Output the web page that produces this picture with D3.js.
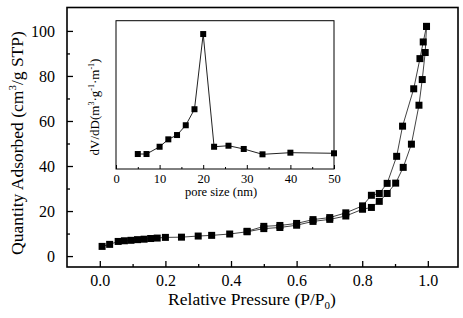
<!DOCTYPE html>
<html>
<head>
<meta charset="utf-8">
<script src="https://cdn.jsdelivr.net/npm/d3@7"></script>
<style>
  body { margin: 0; background: #fff; }
  text { font-family: "Liberation Serif", "Times New Roman", serif; fill: #000; }
</style>
</head>
<body>
<div class="chart"></div>
<script>
// isotherm, adsorption branch
const adsP = [0.007, 0.030, 0.056, 0.075, 0.095, 0.115, 0.135, 0.155, 0.175, 0.200, 0.249, 0.300, 0.341, 0.396, 0.449,
  0.500, 0.549, 0.600, 0.650, 0.701, 0.750, 0.801, 0.828, 0.852, 0.876, 0.902, 0.925, 0.950, 0.973, 0.983, 0.992, 0.996]
const adsQ = [4.3, 5.2, 6.5, 6.8, 7.0, 7.3, 7.5, 7.8, 8.0, 8.3, 8.4, 8.9, 9.2, 9.8, 10.8,
  12.2, 12.7, 13.7, 15.4, 16.3, 17.8, 20.8, 21.6, 24.3, 27.8, 32.4, 39.4, 49.7, 67.0, 78.4, 90.4, 102.0]

// desorption branch
const desP = [0.996, 0.986, 0.976, 0.957, 0.923, 0.905, 0.876, 0.852, 0.828, 0.801, 0.750, 0.701, 0.650, 0.600, 0.549, 0.500, 0.449]
const desQ = [102.0, 95.1, 87.7, 74.3, 57.7, 44.3, 32.3, 27.8, 27.0, 22.3, 19.2, 17.1, 16.2, 14.5, 13.6, 13.2, 11.0]

// inset: pore size distribution
const poreSize = [5, 7, 10, 12, 14, 16, 18, 20, 22.5, 25.8, 29.3, 33.6, 40, 50]
const poreDV = [10.1, 10.1, 15.0, 20.0, 22.9, 29.5, 40.3, 91.0, 15.0, 15.7, 13.5, 9.9, 11.0, 10.6]

const xTicks = [0, 0.2, 0.4, 0.6, 0.8, 1.0]
const yTicks = [0, 20, 40, 60, 80, 100]
const insetTicks = [0, 10, 20, 30, 40, 50]

const width = 463, height = 318
const svg = d3.select('.chart').append('svg')
  .attr('width', width)
  .attr('height', height)

const frame = {left: 67, right: 458, top: 7.5, bottom: 267}

const x = d3.scaleLinear().domain([-0.1, 1.092]).range([frame.left, frame.right])
const y = d3.scaleLinear().domain([-4.85, 110.4]).range([frame.bottom, frame.top])

// main axes, ticks pointing inward
const xAxis = svg.append('g').attr('transform', `translate(0, ${frame.bottom})`)
  .call(d3.axisBottom(x).tickValues(xTicks).tickFormat(d3.format('.1f')).tickSizeInner(-6).tickSizeOuter(0).tickPadding(8))
const yAxis = svg.append('g').attr('transform', `translate(${frame.left}, 0)`)
  .call(d3.axisLeft(y).tickValues(yTicks).tickSizeInner(-6).tickSizeOuter(0).tickPadding(12))

// minor ticks
svg.append('g').attr('transform', `translate(0, ${frame.bottom})`)
  .call(d3.axisBottom(x).tickValues([0.1, 0.3, 0.5, 0.7, 0.9]).tickFormat('').tickSizeInner(-3).tickSizeOuter(0))
svg.append('g').attr('transform', `translate(${frame.left}, 0)`)
  .call(d3.axisLeft(y).tickValues([10, 30, 50, 70, 90]).tickFormat('').tickSizeInner(-3).tickSizeOuter(0))

svg.selectAll('.domain').remove()
svg.selectAll('.tick line').attr('stroke', '#000').attr('stroke-width', 1.3)
xAxis.selectAll('text').style('font-size', '16px')
yAxis.selectAll('text').style('font-size', '16px')

svg.append('rect')
  .attr('x', frame.left).attr('y', frame.top)
  .attr('width', frame.right - frame.left).attr('height', frame.bottom - frame.top)
  .attr('fill', 'none').attr('stroke', '#000').attr('stroke-width', 1.6)

// axis titles
svg.append('text')
  .attr('x', 252).attr('y', 305)
  .attr('text-anchor', 'middle')
  .style('font-size', '17.5px')
  .html('Relative Pressure (P/P<tspan dy="4" font-size="11px">0</tspan><tspan dy="-4">)</tspan>')

svg.append('text')
  .attr('transform', 'translate(23, 143) rotate(-90)')
  .attr('text-anchor', 'middle')
  .style('font-size', '17.5px')
  .html('Quantity Adsorbed (cm<tspan dy="-7" font-size="11px">3</tspan><tspan dy="7">/g STP)</tspan>')

// isotherm
const line = d3.line().x(d => x(d[0])).y(d => y(d[1]))
const ads = adsP.map((p, i) => [p, adsQ[i]])
const des = desP.map((p, i) => [p, desQ[i]])

const iso = svg.append('g')
;[ads, des].forEach(series => {
  iso.append('path')
    .attr('d', line(series))
    .attr('fill', 'none')
    .attr('stroke', '#444')
    .attr('stroke-width', 1)
})
const sq = 7
iso.selectAll('rect.pt')
  .data(ads.concat(des))
  .enter()
  .append('rect')
  .attr('class', 'pt')
  .attr('x', d => x(d[0]) - sq / 2)
  .attr('y', d => y(d[1]) - sq / 2)
  .attr('width', sq).attr('height', sq)
  .attr('fill', '#000')

// inset
const inset = {left: 116, right: 334, top: 20.7, bottom: 169}
const ix = d3.scaleLinear().domain([0, 50]).range([inset.left, inset.right])
const iy = d3.scaleLinear().domain([0, 100]).range([inset.bottom, inset.top])

const ig = svg.append('g')
ig.append('rect')
  .attr('x', inset.left).attr('y', inset.top)
  .attr('width', inset.right - inset.left).attr('height', inset.bottom - inset.top)
  .attr('fill', '#fff').attr('stroke', '#000').attr('stroke-width', 1)

const ixAxis = ig.append('g').attr('transform', `translate(0, ${inset.bottom})`)
  .call(d3.axisBottom(ix).tickValues(insetTicks).tickSizeInner(-4).tickSizeOuter(0).tickPadding(5))
ig.append('g').attr('transform', `translate(0, ${inset.bottom})`)
  .call(d3.axisBottom(ix).tickValues([5, 15, 25, 35, 45]).tickFormat('').tickSizeInner(-2).tickSizeOuter(0))
ig.selectAll('.domain').remove()
ig.selectAll('.tick line').attr('stroke', '#000')
ixAxis.selectAll('text').style('font-size', '12.5px')

ig.append('text')
  .attr('x', 221).attr('y', 196)
  .attr('text-anchor', 'middle')
  .style('font-size', '12.5px')
  .text('pore size (nm)')

ig.append('text')
  .attr('transform', 'translate(99, 107) rotate(-90)')
  .attr('text-anchor', 'middle')
  .style('font-size', '13px')
  .html('dV/dD(m<tspan dy="-5" font-size="8px">3</tspan><tspan dy="5">·g</tspan><tspan dy="-5" font-size="8px">-1</tspan><tspan dy="5">·m</tspan><tspan dy="-5" font-size="8px">-1</tspan><tspan dy="5">)</tspan>')

const psd = poreSize.map((s, i) => [s, poreDV[i]])
const iline = d3.line().x(d => ix(d[0])).y(d => iy(d[1]))
ig.append('path')
  .attr('d', iline(psd))
  .attr('fill', 'none').attr('stroke', '#222').attr('stroke-width', 1)
const isq = 6
ig.selectAll('rect.ipt')
  .data(psd)
  .enter()
  .append('rect')
  .attr('class', 'ipt')
  .attr('x', d => ix(d[0]) - isq / 2)
  .attr('y', d => iy(d[1]) - isq / 2)
  .attr('width', isq).attr('height', isq)
  .attr('fill', '#000')
</script>
</body>
</html>
